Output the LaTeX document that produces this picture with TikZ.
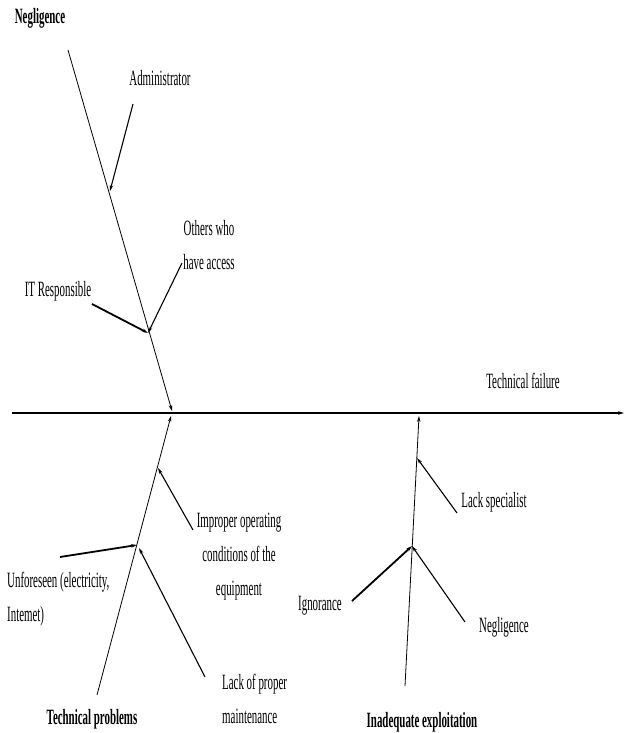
\documentclass[tikz,border=0pt]{standalone}
\usepackage{fontspec}
\setmainfont{Liberation Serif}[FakeStretch=0.5]
\usetikzlibrary{arrows.meta}
\begin{document}
\begin{tikzpicture}[x=1pt,y=-1pt,
  lbl/.style={inner sep=0pt,font=\fontsize{21.8}{34}\selectfont},
  head/.style={lbl,font=\fontsize{21.8}{34}\selectfont\bfseries},
  spine/.style={line width=0.8pt,-{Stealth[length=6pt,width=3.5pt]}},
  twig/.style={line width=1.1pt,-{Stealth[length=6pt,width=3.5pt]}},
  heavy/.style={line width=1.8pt,-{Stealth[length=6pt,width=3.5pt]}},
  axis/.style={line width=1.4pt,-{Stealth[length=6pt,width=3.5pt]}}]
\useasboundingbox (0,0) rectangle (624,733);

% main axis
\coordinate (axL) at (12,413);
\coordinate (axR) at (624,413);
\draw[axis] (axL) -- (axR);
\node[lbl] (fail) at (523,381) {Technical failure};

% upper bone: negligence
\node[head] (negT) at (40,18) {Negligence};
\coordinate (nS) at (68,50);
\coordinate (nJ) at (148,333);
\coordinate (nE) at (172,411);
\coordinate (nA) at (110,191);
\draw[spine] (nS) -- (nE);
\node[lbl] (adm) at (160,78) {Administrator};
\coordinate (admS) at (133,104);
\draw[twig] (admS) -- (nA);
\node[lbl,align=center] (oth) at (209,245) {Others who\\have access};
\coordinate (othS) at (182,263);
\draw[twig] (othS) -- (nJ);
\node[lbl] (itr) at (58,291) {IT Responsible};
\coordinate (itS) at (92,304);
\draw[heavy] (itS) -- (nJ);

% lower bone: technical problems
\node[head] (tp) at (92,719) {Technical problems};
\coordinate (tS) at (97,695);
\coordinate (tJ) at (137,545);
\coordinate (tE) at (171,416);
\coordinate (tI) at (158,468);
\draw[spine] (tS) -- (tE);
\node[lbl,align=center] (imp) at (239,557) {Improper operating\\conditions of the\\equipment};
\coordinate (impS) at (193,530);
\draw[twig] (impS) -- (tI);
\node[lbl,align=left,anchor=north west] (unf) at (7,572) {Unforeseen (electricity,\\Intemet)};
\coordinate (unfS) at (60,557);
\draw[heavy] (unfS) -- (tJ);
\node[lbl,align=left,anchor=north west] (lack) at (222,674) {Lack of proper\\maintenance};
\coordinate (lackS) at (205,677);
\draw[twig] (lackS) -- (139,548);

% lower bone: inadequate exploitation
\node[head] (ie) at (422,722) {Inadequate exploitation};
\coordinate (eS) at (405,686);
\coordinate (eJ) at (412,546);
\coordinate (eE) at (419,416);
\coordinate (eL) at (417,458);
\draw[spine] (eS) -- (eE);
\node[lbl] (spec) at (494,502) {Lack specialist};
\coordinate (specS) at (457,513);
\draw[twig] (specS) -- (eL);
\node[lbl] (ign) at (320,606) {Ignorance};
\coordinate (ignS) at (352,601);
\draw[heavy] (ignS) -- (eJ);
\node[lbl] (negB) at (504,627) {Negligence};
\coordinate (negS) at (465,622);
\draw[twig] (negS) -- (eJ);
\end{tikzpicture}
\end{document}
